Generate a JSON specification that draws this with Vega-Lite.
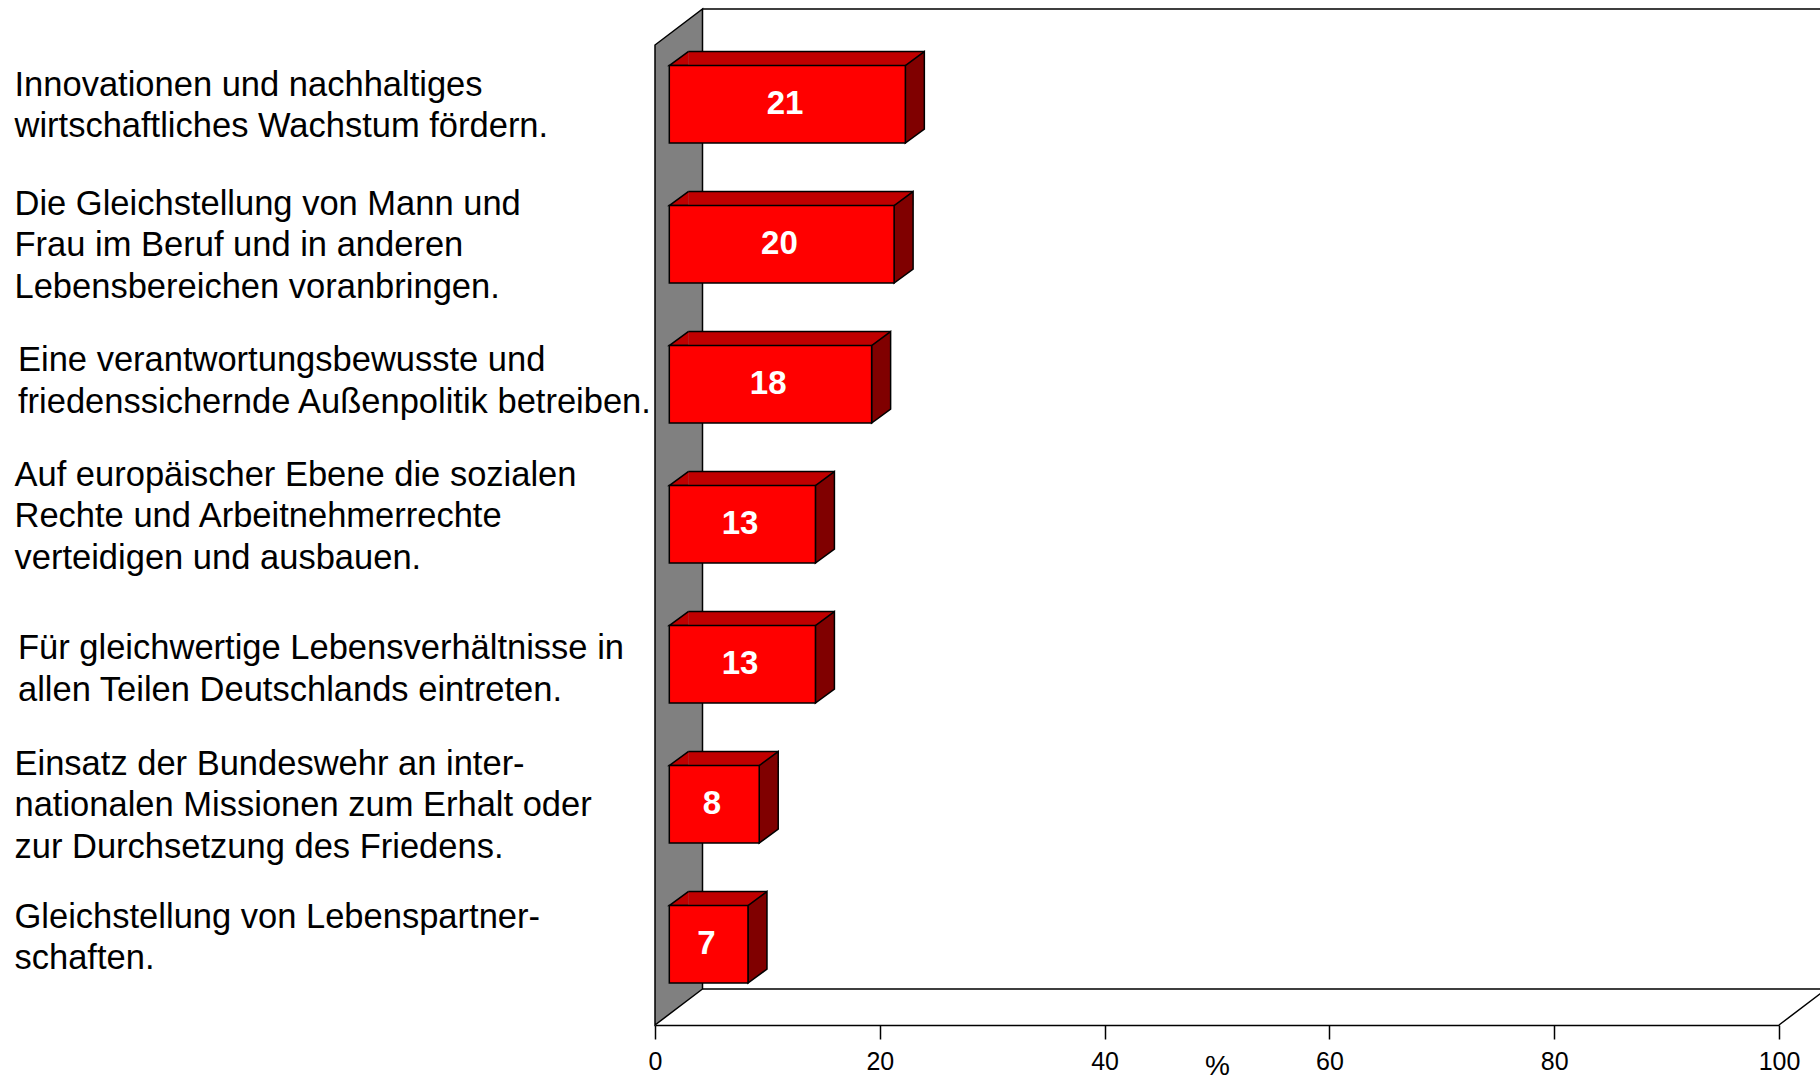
{
  "$schema": "https://vega.github.io/schema/vega-lite/v6.json",
  "width": 1124,
  "height": 980,
  "autosize": {"type": "none"},
  "padding": {"left": 655, "top": 45, "right": 41, "bottom": 54},
  "background": "white",
  "config": {
    "view": {"stroke": null},
    "font": "Liberation Sans",
    "axisY": {
      "domain": false, "ticks": false, "tickSize": 0, "grid": false,
      "labelAlign": "left", "labelBaseline": "middle",
      "labelPadding": {"condition": {"test": "indexof(datum.value, 'Eine') == 0 || indexof(datum.value, 'Für') == 0", "value": 637.5}, "value": 641},
      "labelLimit": 800, "labelFontSize": 34.5, "labelLineHeight": 41.5,
      "labelColor": "black", "labelFont": "Liberation Sans",
      "labelOffset": {"condition": [
        {"test": "indexof(datum.value, 'Innovationen') == 0", "value": -29.3},
        {"test": "indexof(datum.value, 'Die Gleich') == 0", "value": -50.2},
        {"test": "indexof(datum.value, 'Eine') == 0", "value": -33.9},
        {"test": "indexof(datum.value, 'Auf') == 0", "value": -59.4},
        {"test": "indexof(datum.value, 'Für') == 0", "value": -25.8},
        {"test": "indexof(datum.value, 'Einsatz') == 0", "value": -50.2}
      ], "value": -37.4},
      "labelExpr": "split(datum.value, '\\n')"
    },
    "axisX": {
      "grid": false, "domainColor": "black", "domainWidth": 1.5,
      "tickColor": "black", "tickWidth": 1.5, "tickSize": 14,
      "labelFontSize": 25, "labelColor": "black", "labelPadding": 10, "labelFlush": false,
      "labelFont": "Liberation Sans", "titleFont": "Liberation Sans",
      "titleFontSize": 28, "titleFontWeight": "normal", "titleColor": "black",
      "titleBaseline": "top", "titleY": 27
    }
  },
  "datasets": {
    "bars": [
      {"label": "Innovationen und nachhaltiges\nwirtschaftliches Wachstum fördern.", "value": 21},
      {"label": "Die Gleichstellung von Mann und\nFrau im Beruf und in anderen\nLebensbereichen voranbringen.", "value": 20},
      {"label": "Eine verantwortungsbewusste und\nfriedenssichernde Außenpolitik betreiben.", "value": 18},
      {"label": "Auf europäischer Ebene die sozialen\nRechte und Arbeitnehmerrechte\nverteidigen und ausbauen.", "value": 13},
      {"label": "Für gleichwertige Lebensverhältnisse in\nallen Teilen Deutschlands eintreten.", "value": 13},
      {"label": "Einsatz der Bundeswehr an inter-\nnationalen Missionen zum Erhalt oder\nzur Durchsetzung des Friedens.", "value": 8},
      {"label": "Gleichstellung von Lebenspartner-\nschaften.", "value": 7}
    ]
  },
  "resolve": {"scale": {"x": "independent"}},
  "layer": [
    {
      "layer": [
        {
          "data": {"values": [{}]},
          "mark": {"type": "point", "shape": "M47.5,-526L1180,-526M47.5,454L1171.5,454L1124,490", "size": 4, "filled": false, "stroke": "black", "strokeWidth": 1.5, "opacity": 1},
          "encoding": {
            "x": {"datum": 0, "type": "quantitative", "scale": {"domain": [0, 100], "nice": false, "zero": true},
                  "axis": {"title": "%", "values": [0, 20, 40, 60, 80, 100], "labelFlush": false}}
          }
        },
        {
          "data": {"values": [{}]},
          "mark": {"type": "point", "shape": "M0,-490L47.5,-526L47.5,454L0,490Z", "size": 4, "filled": true, "fill": "#808080", "stroke": "black", "strokeWidth": 1.5, "opacity": 1},
          "encoding": {"x": {"datum": 0, "type": "quantitative", "title": "%"}}
        },
        {
          "data": {"name": "bars"},
          "mark": {"type": "bar", "fill": "#C00000", "strokeWidth": 0, "size": 14, "xOffset": 33.3, "x2Offset": 33.3, "yOffset": -56.45},
          "encoding": {
            "x": {"field": "value", "type": "quantitative", "title": "%"},
            "x2": {"datum": 0},
            "y": {"field": "label", "type": "nominal", "sort": null, "title": null, "scale": {"paddingInner": 0, "paddingOuter": 0}}
          }
        },
        {
          "data": {"name": "bars"},
          "mark": {"type": "point", "shape": "M33.3,-63.45L14.3,-49.45L33.3,-49.45", "size": 4, "filled": true, "fill": "#C00000", "stroke": "black", "strokeWidth": 1.5, "opacity": 1},
          "encoding": {
            "x": {"datum": 0, "type": "quantitative", "title": "%"},
            "y": {"field": "label", "type": "nominal", "sort": null, "title": null}
          }
        },
        {
          "data": {"name": "bars"},
          "mark": {"type": "rule", "stroke": "black", "strokeWidth": 1.5, "xOffset": 33.3, "x2Offset": 33.3, "yOffset": -63.45},
          "encoding": {
            "x": {"field": "value", "type": "quantitative", "title": "%"},
            "x2": {"datum": 0},
            "y": {"field": "label", "type": "nominal", "sort": null, "title": null}
          }
        },
        {
          "data": {"name": "bars"},
          "mark": {"type": "point", "shape": "M14.3,-49.45L33.3,-63.45L33.3,14.05L14.3,28.05Z", "size": 4, "filled": true, "fill": "#800000", "stroke": "black", "strokeWidth": 1.5, "opacity": 1},
          "encoding": {
            "x": {"field": "value", "type": "quantitative", "title": "%"},
            "y": {"field": "label", "type": "nominal", "sort": null, "title": null}
          }
        },
        {
          "data": {"name": "bars"},
          "mark": {"type": "bar", "fill": "#FF0000", "stroke": "black", "strokeWidth": 1.5, "size": 77.5, "xOffset": 14.3, "x2Offset": 14.3, "yOffset": -10.7},
          "encoding": {
            "x": {"field": "value", "type": "quantitative", "title": "%"},
            "x2": {"datum": 0},
            "y": {"field": "label", "type": "nominal", "sort": null, "title": null}
          }
        }
      ]
    },
    {
      "data": {"name": "bars"},
      "mark": {"type": "text", "fill": "white", "fontWeight": "bold", "fontSize": 33, "font": "Liberation Sans", "align": "center", "baseline": "middle", "xOffset": 12, "yOffset": -10.7},
      "encoding": {
        "x": {"field": "value", "type": "quantitative", "scale": {"domain": [0, 200], "nice": false}, "axis": null},
        "y": {"field": "label", "type": "nominal", "sort": null, "title": null},
        "text": {"field": "value", "type": "quantitative"}
      }
    }
  ]
}
